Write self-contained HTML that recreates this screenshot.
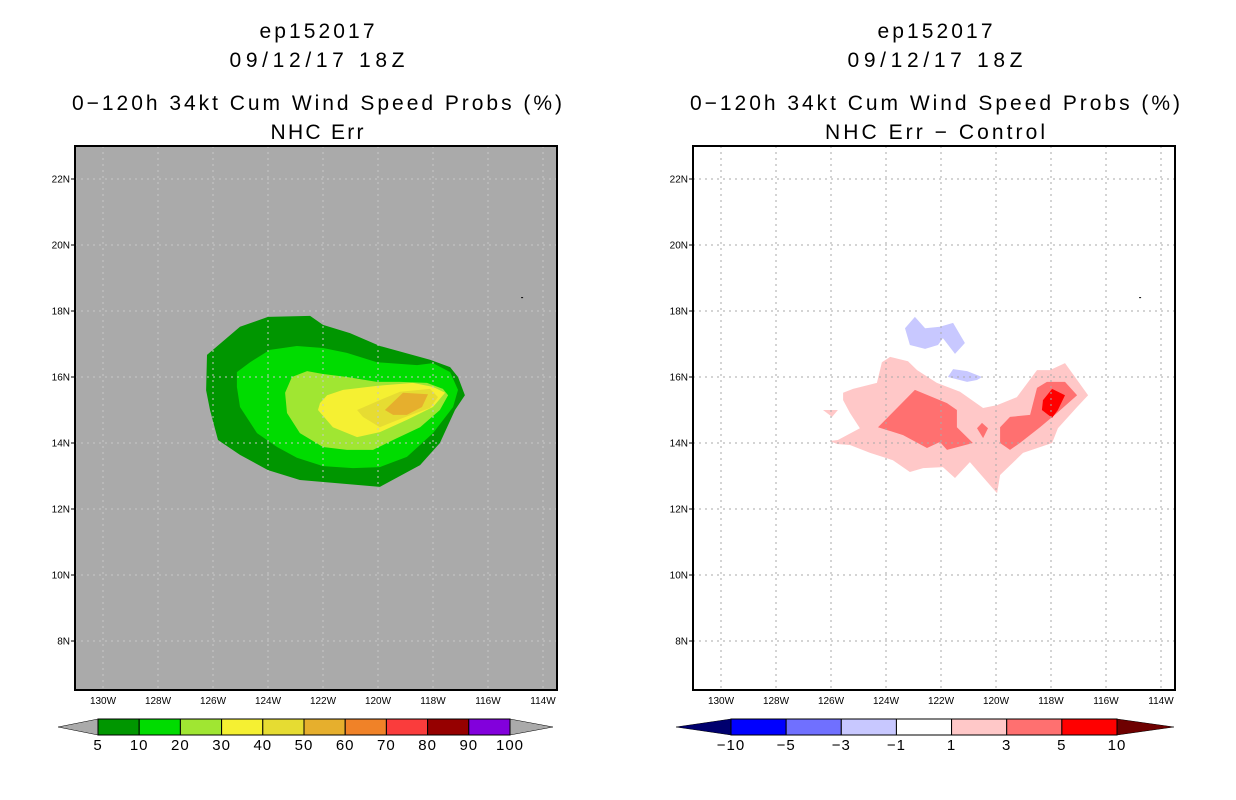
<!DOCTYPE html>
<html><head><meta charset="utf-8"><style>
body{margin:0;background:#fff;width:1236px;height:800px;overflow:hidden;font-family:"Liberation Sans",sans-serif}
svg{display:block}
</style></head><body>
<svg id="s" width="1236" height="800" xmlns="http://www.w3.org/2000/svg"></svg>
<script>
const lonTicks=[130,128,126,124,122,120,118,116,114];
const latTicks=[22,20,18,16,14,12,10,8];
const leftLevels=[5,10,20,30,40,50,60,70,80,90,100];
const leftColors=["#009600","#00dc00","#a0e632","#f5f032","#e6dc32","#e6af2d","#f08228","#fa3c3c","#960000","#8200dc"];
const rightLevels=[-10,-5,-3,-1,1,3,5,10];
const rightColors=["#0000ff","#7070ff","#c8c8ff","#ffffff","#ffc8c8","#ff7070","#ff0000"];
const left5=[[126.22,16.67],[125.02,17.52],[124.0,17.82],[122.47,17.85],[122.0,17.58],[121.02,17.33],[119.93,16.94],[118.11,16.52],[117.38,16.3],[117.09,16.0],[116.84,15.45],[117.2,15.0],[117.75,14.0],[118.47,13.33],[119.93,12.67],[121.2,12.76],[122.84,12.88],[124.0,13.18],[125.02,13.64],[125.82,14.09],[126.11,15.0],[126.25,15.6]];
const left10=[[125.13,16.15],[124.65,16.45],[123.93,16.82],[122.95,16.94],[122.0,16.88],[121.13,16.73],[120.04,16.45],[118.58,16.36],[118.0,16.42],[117.38,16.15],[117.09,15.61],[117.27,15.09],[118.0,14.3],[118.95,13.58],[119.93,13.27],[120.91,13.24],[122.0,13.3],[122.95,13.55],[123.67,13.88],[124.4,14.3],[125.02,15.09],[125.13,15.7]];
const left20=[[123.13,16.0],[122.58,16.18],[122.0,16.09],[121.13,16.0],[120.04,15.85],[119.2,15.85],[118.22,15.82],[117.64,15.64],[117.45,15.45],[117.75,15.0],[118.47,14.48],[119.45,14.09],[120.18,13.79],[121.13,13.79],[122.0,13.88],[122.84,14.3],[123.31,14.91],[123.38,15.52]];
const left30=[[122.11,15.21],[121.85,15.45],[121.27,15.61],[120.04,15.73],[118.73,15.82],[118.0,15.7],[117.56,15.52],[118.0,15.09],[118.95,14.7],[119.93,14.33],[120.76,14.18],[121.64,14.48],[122.18,15.0]];
const left40=[[120.76,15.0],[119.93,15.3],[119.2,15.55],[118.11,15.64],[117.82,15.39],[118.11,15.06],[119.09,14.76],[119.93,14.48],[120.55,14.79]];
const left50=[[119.75,15.0],[119.09,15.52],[118.18,15.48],[118.4,15.09],[118.95,14.85],[119.45,14.85]];
const rPink=[[125.56,15.3],[125.56,15.52],[125.2,15.64],[124.33,15.82],[124.15,16.45],[123.85,16.61],[123.2,16.48],[122.87,16.21],[122.15,15.82],[121.31,15.55],[120.47,15.06],[119.96,15.15],[119.24,15.39],[118.51,16.21],[118.04,16.21],[117.49,16.42],[116.65,15.45],[117.05,15.09],[117.75,14.45],[117.96,14.0],[119.02,13.7],[119.85,13.03],[119.96,12.48],[120.95,13.42],[121.49,12.94],[121.93,13.27],[122.65,13.24],[123.13,13.12],[123.75,13.48],[124.58,13.7],[125.31,13.94],[125.78,13.97],[126.04,14.06],[125.75,14.09],[124.95,14.45],[125.31,14.91]];
const rPinkSmall=[[126.29,15.0],[125.75,15.0],[125.96,14.79]];
const rMid1=[[124.29,14.48],[122.95,15.61],[121.78,15.21],[121.42,15.0],[121.42,14.48],[120.84,14.0],[121.78,13.79],[122.04,14.03],[122.51,13.85],[123.38,14.24]];
const rMid2=[[120.69,14.45],[120.51,14.61],[120.29,14.45],[120.47,14.15]];
const rMid3=[[119.85,14.48],[119.49,14.79],[118.76,14.85],[118.51,15.67],[118.15,15.85],[117.49,15.85],[117.05,15.45],[117.78,14.91],[118.4,14.48],[119.13,14.0],[119.49,13.79],[119.85,14.0]];
const rRed=[[118.29,15.3],[117.96,15.64],[117.49,15.45],[117.75,15.0],[117.96,14.76],[118.33,15.0]];
const rBlue1=[[123.31,17.48],[122.95,17.82],[122.58,17.48],[122.04,17.52],[121.56,17.64],[121.13,17.03],[121.49,16.7],[121.93,17.18],[122.11,16.97],[122.58,16.85],[123.13,16.97]];
const rBlue2=[[121.75,16.0],[121.56,16.24],[121.05,16.18],[120.51,16.0],[120.69,15.91],[121.05,15.85]];
const islandPt=[114.76,18.39];

const NS="http://www.w3.org/2000/svg";
const svg=document.getElementById('s');
function el(t,a,p){const e=document.createElementNS(NS,t);for(const k in a)e.setAttribute(k,a[k]);(p||svg).appendChild(e);return e;}
const FT=146,FB=690,FW=482;
function xs(off){return w=>off+303-(w-120)*27.5;}
function ys(lat){return 377-(lat-16)*33;}

function panel(off,bg,gridCol,titles,tlens,polys,name){
  const g=el('g',{});
  
  
  const X=xs(off);
  const r=el('rect',{x:off,y:FT,width:FW,height:FB-FT,fill:bg},g);
  
  
  polys.forEach(([pts,c,n])=>{
    const p=el('polygon',{points:pts.map(q=>X(q[0]).toFixed(1)+','+ys(q[1]).toFixed(1)).join(' '),fill:c},g);
    
    
  });
  lonTicks.forEach(w=>{const x=X(w);
    const l=el('line',{x1:x,y1:FT,x2:x,y2:FB,stroke:gridCol,'stroke-dasharray':'2,4'},g);
    
    
    const t=el('text',{x:x,y:704,'font-size':10,'text-anchor':'middle',fill:'#000'},g);t.textContent=w+'W';
    
    
  });
  latTicks.forEach(l=>{const y=ys(l);
    const ln=el('line',{x1:off,y1:y,x2:off+FW,y2:y,stroke:gridCol,'stroke-dasharray':'2,4'},g);
    
    
    el('line',{x1:off-4,y1:y,x2:off,y2:y,stroke:'#000'},g);
    const t=el('text',{x:off-5,y:y+3.5,'font-size':10,'text-anchor':'end',fill:'#000'},g);t.textContent=l+'N';
    
    
  });
  const d=el('rect',{x:X(islandPt[0])-1,y:ys(islandPt[1])-1,width:2,height:1,fill:'#000'},g);
  
  
  const fr=el('rect',{x:off,y:FT,width:FW,height:FB-FT,fill:'none',stroke:'#000','stroke-width':2},g);
  
  
  const cx=off+FW/2+1;const ty=[38,67,110,139];
  titles.forEach((s,i)=>{const t=el('text',{x:cx-tlens[i]/2,y:ty[i],'font-size':21,fill:'#000',textLength:tlens[i],lengthAdjust:'spacing'},g);t.textContent=s;
    
    
  });
}

panel(75,'#aaaaaa','#c8c8c8',['ep152017','09/12/17 18Z','0\u2212120h 34kt Cum Wind Speed Probs (%)','NHC Err'],[115,175,490,93],
 [[left5,leftColors[0],'contour-5'],[left10,leftColors[1],'contour-10'],[left20,leftColors[2],'contour-20'],[left30,leftColors[3],'contour-30'],[left40,leftColors[4],'contour-40'],[left50,leftColors[5],'contour-50']],'left-map-panel');
panel(693,'#ffffff','#aaaaaa',['ep152017','09/12/17 18Z','0\u2212120h 34kt Cum Wind Speed Probs (%)','NHC Err \u2212 Control'],[115,175,490,220],
 [[rPink,rightColors[4],'diff-1-3'],[rPinkSmall,rightColors[4],'diff-1-3-small'],[rMid1,rightColors[5],'diff-3-5-a'],[rMid2,rightColors[5],'diff-3-5-b'],[rMid3,rightColors[5],'diff-3-5-c'],[rRed,rightColors[6],'diff-5-10'],[rBlue1,rightColors[2],'diff-neg-a'],[rBlue2,rightColors[2],'diff-neg-b']],'right-map-panel');

function cbar(x0,x1,tipL,tipR,colors,levels,lc,rc,name){
  const g=el('g',{});
  
  
  const y0=719,y1=735,ym=727,n=colors.length,w=(x1-x0)/n;
  const a=el('polygon',{points:`${x0},${y0} ${tipL},${ym} ${x0},${y1}`,fill:lc,stroke:'#000','stroke-width':0.5},g);
  
  
  const b=el('polygon',{points:`${x1},${y0} ${tipR},${ym} ${x1},${y1}`,fill:rc,stroke:'#000','stroke-width':0.5},g);
  
  
  colors.forEach((c,i)=>{const r=el('rect',{x:x0+i*w,y:y0,width:w,height:y1-y0,fill:c,stroke:'#000','stroke-width':1},g);
    
    });
  levels.forEach((v,i)=>{const t=el('text',{x:x0+i*w,y:750,'font-size':15,'text-anchor':'middle',fill:'#000','letter-spacing':'1'},g);t.textContent=String(v).replace('-','\u2212');
    
    });
}
cbar(98,510,58,553,leftColors,leftLevels,'#aaaaaa','#aaaaaa','left-colorbar');
cbar(731,1117,676,1174,rightColors,rightLevels,'#00006e','#6e0000','right-colorbar');
</script>
</body></html>
